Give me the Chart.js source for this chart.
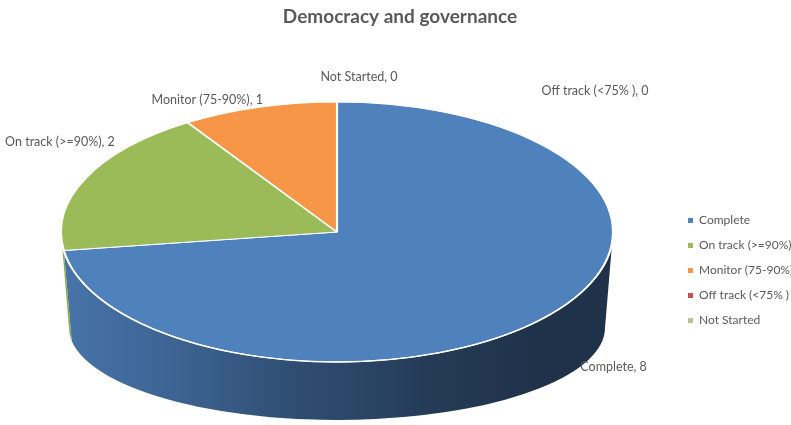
<!DOCTYPE html>
<html>
<head>
<meta charset="utf-8">
<script src="https://cdn.jsdelivr.net/npm/chart.js@4.4.1/dist/chart.umd.min.js"></script>
<style>
  html, body { margin: 0; padding: 0; background: #fff; overflow: hidden; }
  #wrap { width: 791px; height: 425px; overflow: hidden; }
  canvas { display: block; }
</style>
</head>
<body>
<div id="wrap"><canvas id="c" width="800" height="425"></canvas></div>
<script>
// Categories and counts
const categories = ['Complete', 'On track (>=90%)', 'Monitor (75-90%)', 'Off track (<75% )', 'Not Started'];
const counts = [8, 2, 1, 0, 0];
const sliceColors = ['#4F81BD', '#9BBB59', '#F79646', '#C0504D', '#C4BD97'];

// Tilted-disc geometry (screen pixels) and label nudges from each slice's rim point
const disc = { cx: 337, cy: 232, rx: 276, ry: 130, bcy: 328, brx: 268, bry: 92 };
const labelNudges = [[68, 50], [-26, -36], [-52, -7], [258, -11], [22, -25]];

const FONT = 'Lato, "Open Sans", sans-serif';
const TEXT = '#595959';

function shade(hex, f) {
  const n = parseInt(hex.slice(1), 16);
  const r = Math.round(((n >> 16) & 255) * f);
  const g = Math.round(((n >> 8) & 255) * f);
  const b = Math.round((n & 255) * f);
  return `rgb(${r},${g},${b})`;
}

const pie3d = {
  id: 'pie3d',
  beforeDatasetsDraw(chart) {
    const ctx = chart.ctx;
    const meta = chart.getDatasetMeta(0);
    const d = disc;
    const TAU = Math.PI * 2;
    // front wall of every slice that reaches the near half of the disc
    meta.data.forEach((arc, i) => {
      const base = chart.data.datasets[0].backgroundColor[i];
      for (let k = -1; k <= 1; k++) {
        const lo = Math.max(arc.startAngle, TAU * k);
        const hi = Math.min(arc.endAngle, Math.PI + TAU * k);
        if (hi - lo <= 1e-6) continue;
        const t1 = lo - TAU * k, t2 = hi - TAU * k;
        const grad = ctx.createLinearGradient(d.cx - d.rx, 0, d.cx + d.rx, 0);
        grad.addColorStop(0.00, shade(base, 0.90));
        grad.addColorStop(0.21, shade(base, 0.77));
        grad.addColorStop(0.43, shade(base, 0.60));
        grad.addColorStop(0.69, shade(base, 0.45));
        grad.addColorStop(0.85, shade(base, 0.39));
        grad.addColorStop(1.00, shade(base, 0.39));
        ctx.save();
        ctx.beginPath();
        ctx.ellipse(d.cx, d.cy, d.rx, d.ry, 0, t1, t2, false);
        ctx.lineTo(d.cx + d.brx * Math.cos(t2), d.bcy + d.bry * Math.sin(t2));
        ctx.ellipse(d.cx, d.bcy, d.brx, d.bry, 0, t2, t1, true);
        ctx.closePath();
        ctx.fillStyle = grad;
        ctx.fill();
        ctx.restore();
      }
    });
    // squash the library's round pie onto the top face
    const a0 = meta.data[0];
    ctx.save();
    ctx.translate(d.cx, d.cy);
    ctx.scale(d.rx / a0.outerRadius, d.ry / a0.outerRadius);
    ctx.translate(-a0.x, -a0.y);
  },
  afterDatasetsDraw(chart) {
    const ctx = chart.ctx;
    ctx.restore();
    const d = disc;
    // white rim between the top face and the wall
    ctx.save();
    ctx.beginPath();
    ctx.ellipse(d.cx, d.cy, d.rx, d.ry, 0, 0, Math.PI, false);
    ctx.strokeStyle = '#ffffff';
    ctx.lineWidth = 1.5;
    ctx.stroke();
    ctx.restore();
    // category, value labels
    const meta = chart.getDatasetMeta(0);
    ctx.save();
    ctx.font = '12.5px ' + FONT;
    ctx.fillStyle = TEXT;
    ctx.textAlign = 'center';
    ctx.textBaseline = 'middle';
    meta.data.forEach((arc, i) => {
      const mid = (arc.startAngle + arc.endAngle) / 2;
      const px = d.cx + d.rx * Math.cos(mid) + labelNudges[i][0];
      const py = d.cy + d.ry * Math.sin(mid) + labelNudges[i][1];
      ctx.fillText(categories[i] + ', ' + counts[i], px, py);
    });
    ctx.restore();
  }
};

new Chart(document.getElementById('c'), {
  type: 'pie',
  data: {
    labels: categories,
    datasets: [{
      data: counts,
      backgroundColor: sliceColors,
      borderColor: '#ffffff',
      borderWidth: 1.2,
      clip: false
    }]
  },
  options: {
    responsive: false,
    animation: false,
    devicePixelRatio: 1,
    events: [],
    layout: { padding: 0 },
    plugins: {
      title: {
        display: true,
        text: 'Democracy and governance',
        color: TEXT,
        font: { family: FONT, size: 19, weight: 'bold', lineHeight: 1.2 },
        padding: { top: 5, bottom: 88 }
      },
      legend: {
        position: 'right',
        fullSize: false,
        maxWidth: 125,
        labels: {
          color: TEXT,
          font: { family: FONT, size: 12 },
          boxWidth: 5,
          boxHeight: 5,
          padding: 13,
          generateLabels(chart) {
            return Chart.overrides.doughnut.plugins.legend.labels.generateLabels(chart)
              .map(item => Object.assign(item, { lineWidth: 0 }));
          }
        }
      },
      tooltip: { enabled: false }
    }
  },
  plugins: [pie3d]
});
</script>
</body>
</html>
